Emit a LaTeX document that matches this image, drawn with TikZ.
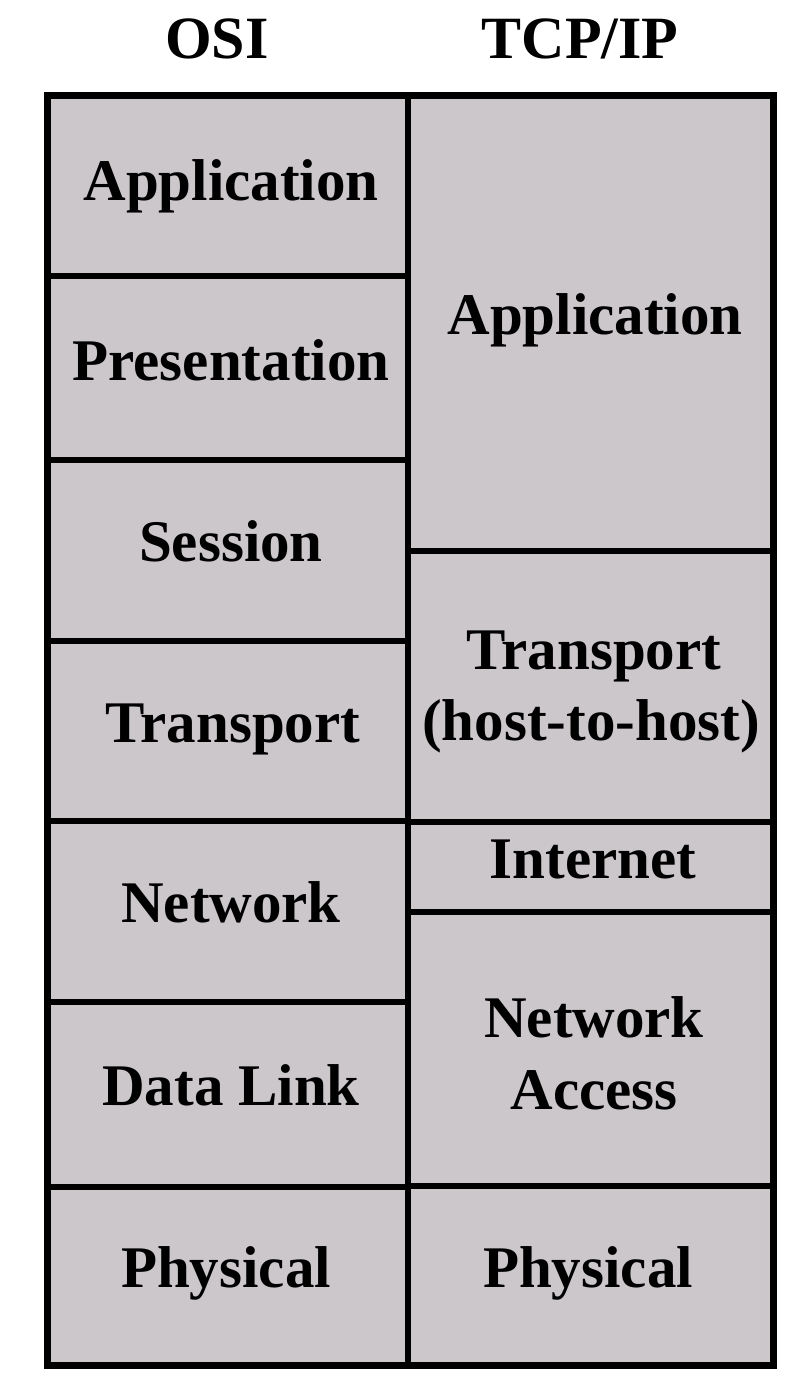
\documentclass[tikz,border=0pt]{standalone}
\usepackage{fontspec}
\setmainfont{Liberation Serif}
\definecolor{cellgray}{RGB}{203,199,203}
\begin{document}
\begin{tikzpicture}[x=1pt,y=-1pt,
  cell/.style={draw=black, fill=cellgray, line width=6pt, inner sep=0pt, outer sep=0pt},
  frame/.style={draw=black, line width=7pt, inner sep=0pt, outer sep=0pt},
  lbl/.style={font=\fontsize{59}{70}\selectfont\bfseries, anchor=base, inner sep=0pt},
  ttl/.style={font=\fontsize{60}{70}\selectfont\bfseries, anchor=base, inner sep=0pt}]
\useasboundingbox[fill=white] (0,0) rectangle (806,1386);
% OSI column cells
\node[cell, minimum width=361pt, minimum height=180pt] (osiapp)  at (227.5,186)    {};
\node[cell, minimum width=361pt, minimum height=184pt] (osipres) at (227.5,368)    {};
\node[cell, minimum width=361pt, minimum height=181pt] (osises)  at (227.5,550.5)  {};
\node[cell, minimum width=361pt, minimum height=180pt] (ositra)  at (227.5,731)    {};
\node[cell, minimum width=361pt, minimum height=181pt] (osinet)  at (227.5,911.5)  {};
\node[cell, minimum width=361pt, minimum height=185pt] (osidl)   at (227.5,1094.5) {};
\node[cell, minimum width=361pt, minimum height=178pt] (osiphy)  at (227.5,1276)   {};
% TCP/IP column cells
\node[cell, minimum width=365pt, minimum height=455pt] (tcpapp)  at (590.5,323.5)  {};
\node[cell, minimum width=365pt, minimum height=271pt] (tcptra)  at (590.5,686.5)  {};
\node[cell, minimum width=365pt, minimum height=90pt]  (tcpint)  at (590.5,867)    {};
\node[cell, minimum width=365pt, minimum height=274pt] (tcpna)   at (590.5,1049)   {};
\node[cell, minimum width=365pt, minimum height=179pt] (tcpphy)  at (590.5,1275.5) {};
% outer frame
\node[frame, minimum width=726pt, minimum height=1269pt] (outer) at (410,730.5) {};
% titles
\node[ttl] (tosi) at (217,59) {OSI};
\node[ttl] (ttcp) at (580,59) {TCP/IP};
% OSI labels
\node[lbl] (losiapp)  at (231,200)  {Application};
\node[lbl] (losipres) at (231,380)  {Presentation};
\node[lbl] (losises)  at (231,561)  {Session};
\node[lbl] (lositra)  at (233,742)  {Transport};
\node[lbl] (losinet)  at (231,922)  {Network};
\node[lbl] (losidl)   at (231,1105) {Data Link};
\node[lbl] (losiphy)  at (226,1287) {Physical};
% TCP/IP labels
\node[lbl] (ltcpapp)  at (595,334)  {Application};
\node[lbl] (ltcptra)  at (594,669)  {Transport};
\node[lbl] (ltcph2h)  at (591,740)  {(host-to-host)};
\node[lbl] (ltcpint)  at (593,878)  {Internet};
\node[lbl] (ltcpnet)  at (594,1037) {Network};
\node[lbl] (ltcpacc)  at (594,1109) {Access};
\node[lbl] (ltcpphy)  at (588,1287) {Physical};
\end{tikzpicture}
\end{document}
